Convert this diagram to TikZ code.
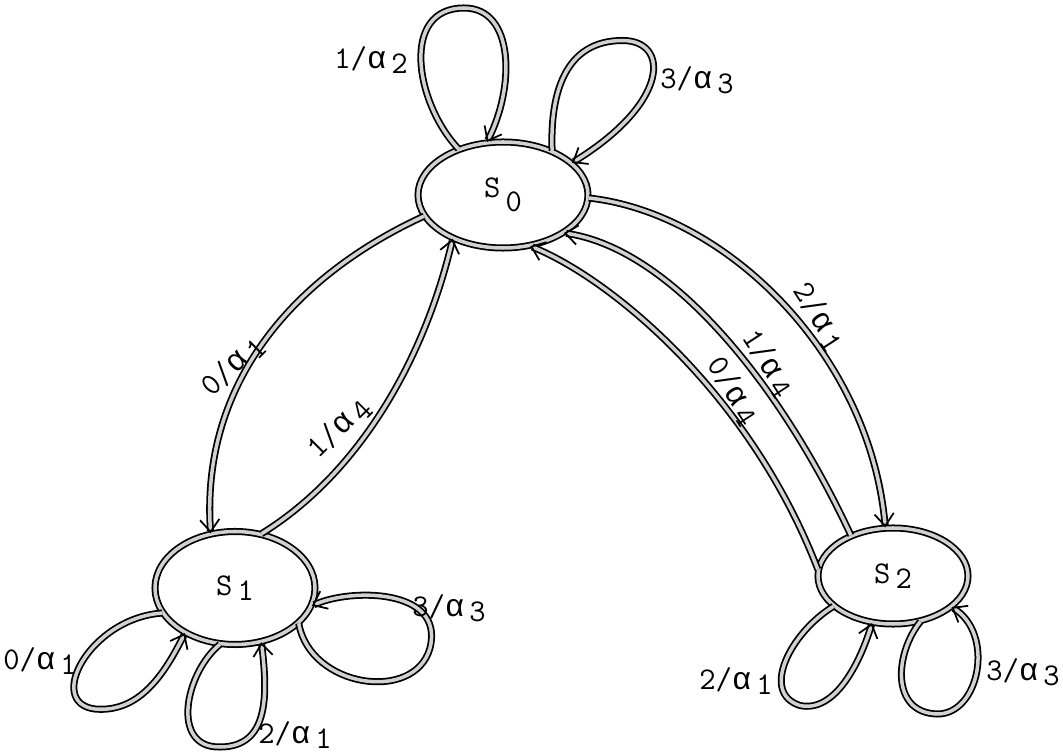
\documentclass[tikz,border=0pt]{standalone}
\usepackage{fontspec}
\newfontfamily\monogreco{Liberation Mono}
\usetikzlibrary{shapes.geometric, arrows.meta}
\newcommand{\pedice}[1]{\,\raisebox{-0.4ex}{#1}}
\newcommand{\alfa}{{\monogreco α}}
\tikzset{
    tratto/.style = {draw, line width = 1pt, double = black!18, double distance = 2pt},
    stato/.style = {tratto, ellipse, inner sep = 0pt, font = \ttfamily\fontsize{18}{18}\selectfont},
    arco/.style = {tratto, -{Straight Barb[length = 7pt, width = 11pt]}},
    etichetta/.style = {font = \ttfamily\fontsize{18}{18}\selectfont, inner sep = 0pt}
}

\begin{document}
\begin{tikzpicture}
    \useasboundingbox (0,0) rectangle (21.26,15.06);
    % Stati
    \node[stato, minimum width = 3.4cm, minimum height = 2.12cm] (S0) at (10.06,11.16) {S\,\raisebox{-1ex}{0}};
    \node[stato, minimum width = 3.2cm, minimum height = 2.26cm] (S1) at (4.70,3.30) {\raisebox{-0.6ex}{S\pedice{1}}};
    \node[stato, minimum width = 3.0cm, minimum height = 1.92cm] (S2) at (17.86,3.54) {S\pedice{2}};
    % Cappi su S0
    \draw[arco] (S0.134) .. controls (8.3,13.0) and (8.0,14.9) .. (9.28,14.9)
                .. controls (10.3,14.9) and (10.3,13.3) .. (S0.107);
    \node[etichetta] (l0a) at (7.42,13.86) {1/\alfa\pedice{2}};
    \draw[arco] (S0.42) .. controls (11.0,13.2) and (11.3,14.25) .. (12.45,14.25)
                .. controls (13.4,14.25) and (13.4,13.0) .. (S0.25);
    \node[etichetta] (l0b) at (13.94,13.46) {3/\alfa\pedice{3}};
    % Archi tra S0 e S1
    \draw[arco] (S0.195) .. controls (6.0,9.6) and (4.0,7.5) .. (S1.114);
    \node[etichetta, rotate = 45] (l01) at (4.66,7.74) {0/\alfa\pedice{1}};
    \draw[arco] (S1.64) .. controls (7.2,5.6) and (8.5,7.9) .. (S0.221);
    \node[etichetta, rotate = 45] (l10) at (6.78,6.50) {1/\alfa\pedice{4}};
    % Archi tra S0 e S2
    \draw[arco] (S0.-2) .. controls (14.5,10.8) and (17.4,8.0) .. (S2.99);
    \node[etichetta, rotate = -57] (l02) at (16.38,8.72) {2/\alfa\pedice{1}};
    \draw[arco] (S2.136) .. controls (15.6,7.4) and (13.4,10.1) .. (S0.-32);
    \node[etichetta, rotate = -57] (l20a) at (15.36,7.79) {1/\alfa\pedice{4}};
    \draw[arco] (S2.175) .. controls (15.0,7.2) and (12.2,9.5) .. (S0.-62);
    \node[etichetta, rotate = -57] (l20b) at (14.66,7.24) {0/\alfa\pedice{4}};
    % Cappi su S1
    \draw[arco] (S1.199) .. controls (1.8,2.7) and (0.9,1.0) .. (1.9,0.88)
                .. controls (2.8,0.8) and (3.3,1.6) .. (S1.222);
    \node[etichetta] (l1a) at (0.8,1.84) {0/\alfa\pedice{1}};
    \draw[arco] (S1.255) .. controls (3.7,1.6) and (3.4,0.1) .. (4.4,0.12)
                .. controls (5.4,0.12) and (5.35,1.2) .. (S1.296);
    \node[etichetta] (l1b) at (5.9,0.36) {2/\alfa\pedice{1}};
    \draw[arco] (S1.-29) .. controls (6.2,1.3) and (8.3,1.0) .. (8.6,2.1)
                .. controls (8.9,3.3) and (7.0,3.3) .. (S1.-13);
    \node[etichetta] (l1c) at (8.98,2.90) {3/\alfa\pedice{3}};
    % Cappi su S2
    \draw[arco] (S2.207) .. controls (15.8,2.4) and (15.2,1.2) .. (16.0,0.95)
                .. controls (16.7,0.8) and (17.2,1.8) .. (S2.246);
    \node[etichetta] (l2a) at (14.72,1.44) {2/\alfa\pedice{1}};
    \draw[arco] (S2.-59) .. controls (17.9,2.0) and (17.8,0.8) .. (18.75,0.78)
                .. controls (19.6,0.78) and (19.9,2.4) .. (S2.-28);
    \node[etichetta] (l2b) at (20.46,1.62) {3/\alfa\pedice{3}};
\end{tikzpicture}
\end{document}
